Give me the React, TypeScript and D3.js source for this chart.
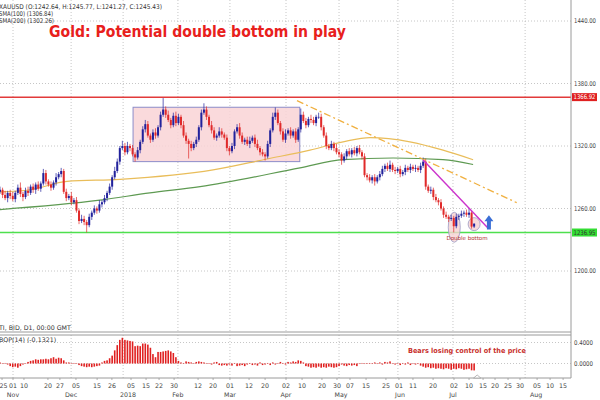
import React from "react";
import * as d3 from "d3";

const closes = [
  1278, 1273, 1270, 1275, 1272, 1269, 1275, 1280, 1274, 1271,
  1277, 1275, 1281, 1278, 1283, 1279, 1284, 1294, 1286, 1283,
  1280, 1285, 1290, 1293, 1296, 1276, 1270, 1272, 1266, 1268,
  1258, 1248, 1250, 1247, 1244, 1252, 1256, 1260, 1258, 1264,
  1266, 1270, 1275, 1281, 1290, 1296, 1305, 1318, 1320, 1314,
  1320, 1318, 1312, 1309, 1316, 1324, 1336, 1341, 1330, 1326,
  1333, 1330, 1338, 1350, 1355, 1350, 1345, 1340, 1349, 1342,
  1348, 1340, 1330, 1325, 1322, 1318, 1322, 1326, 1338, 1352,
  1355, 1348, 1340, 1335, 1328, 1330, 1334, 1331, 1328, 1318,
  1315, 1320, 1334, 1338, 1330, 1324, 1326, 1322, 1325, 1328,
  1322, 1318, 1314, 1312, 1310, 1322, 1335, 1348, 1352, 1342,
  1334, 1326, 1332, 1335, 1330, 1334, 1326, 1336, 1350, 1344,
  1340, 1346, 1345, 1342, 1348, 1348, 1338, 1330, 1320, 1318,
  1322, 1318, 1314, 1312, 1306, 1310, 1315, 1312, 1316, 1313,
  1318, 1314, 1310, 1292, 1290, 1287, 1290, 1286, 1290, 1293,
  1298, 1301, 1298, 1302, 1297, 1296, 1298, 1293, 1295, 1299,
  1297, 1300, 1298, 1299, 1297, 1301, 1305, 1281, 1277, 1278,
  1271, 1268, 1266, 1260, 1254, 1252, 1250, 1251, 1243, 1252,
  1253, 1255, 1256, 1254, 1256, 1242.64, 1245.43,
];
const firstOpen = 1276;

const wickUp = [
  3, 2, 4, 2, 3, 4, 2, 3, 5, 2,
  3, 4, 2, 3, 2, 3, 2, 4, 3, 2,
  3, 2, 4, 2, 3, 2, 3, 2, 4, 2,
  3, 2, 4, 3, 2, 3, 2, 3, 2, 4,
  2, 3, 2, 3, 2, 4, 3, 2, 5, 3,
  4, 2, 3, 2, 3, 2, 3, 4, 3, 2,
  3, 4, 2, 3, 11, 3, 4, 2, 3, 4,
  3, 2, 4, 3, 2, 3, 2, 3, 2, 3,
  6, 3, 2, 4, 3, 2, 4, 3, 2, 3,
  2, 3, 2, 3, 4, 3, 2, 3, 4, 2,
  3, 4, 2, 3, 2, 3, 2, 4, 5, 3,
  2, 3, 4, 2, 3, 2, 3, 2, 6, 3,
  3, 2, 4, 3, 2, 4, 3, 2, 3, 2,
  3, 2, 4, 3, 2, 3, 2, 3, 2, 3,
  2, 3, 2, 3, 2, 3, 2, 3, 2, 3,
  3, 2, 3, 4, 2, 3, 2, 3, 2, 3,
  2, 3, 2, 3, 2, 3, 4, 3, 2, 3,
  2, 3, 2, 3, 2, 3, 2, 3, 2, 3,
  2, 3, 2, 3, 4, 2, 0.34,
];
const wickDown = [
  2, 3, 2, 4, 3, 2, 3, 2, 3, 4,
  2, 3, 2, 3, 4, 2, 3, 2, 3, 2,
  3, 2, 3, 2, 3, 2, 3, 2, 3, 2,
  2, 3, 2, 3, 7, 2, 3, 2, 3, 2,
  3, 2, 3, 2, 3, 2, 2, 3, 2, 3,
  2, 3, 2, 4, 2, 3, 2, 3, 2, 3,
  2, 3, 2, 3, 2, 3, 2, 3, 2, 3,
  2, 3, 2, 3, 14, 3, 2, 3, 2, 3,
  2, 3, 2, 3, 2, 3, 2, 3, 2, 3,
  4, 2, 3, 2, 3, 2, 3, 2, 4, 2,
  3, 2, 3, 2, 4, 2, 3, 2, 3, 2,
  3, 2, 3, 2, 3, 2, 3, 2, 3, 2,
  3, 2, 3, 2, 3, 2, 3, 2, 3, 2,
  2, 3, 2, 3, 4, 2, 3, 2, 3, 2,
  3, 2, 3, 2, 3, 2, 3, 4, 2, 3,
  2, 3, 2, 3, 2, 3, 2, 3, 2, 3,
  2, 3, 2, 3, 2, 3, 2, 3, 2, 3,
  3, 2, 3, 2, 3, 2, 3, 2, 6, 2,
  3, 2, 3, 2, 3, 2, 1.37,
];

const bopValues = [
  0.02, -0.01, 0.01, -0.02,
  -0.05, -0.07, -0.06, -0.08, -0.05,
  -0.02, 0.0, 0.03,
  0.05, 0.06, 0.08, 0.07, 0.08, 0.08, 0.09, 0.08, 0.1, 0.12, 0.09, 0.11, 0.1, 0.06,
  0.02, 0.02, 0.01, 0.01, 0.0,
  -0.03, -0.05, -0.06, -0.07, -0.06, -0.07, -0.06, -0.05, -0.04,
  0.02, 0.05, 0.06, 0.1, 0.15,
  0.25, 0.35, 0.45, 0.49, 0.45,
  0.44, 0.43, 0.42, 0.33, 0.34, 0.33,
  0.38, 0.38, 0.36, 0.3,
  0.18, 0.12, 0.22, 0.22,
  0.23, 0.24, 0.25, 0.23, 0.2,
  0.12, 0.05, 0.02, 0.01,
  0.04, 0.03, 0.02, 0.01, 0.03, 0.04, 0.03, 0.02,
  0.01, 0.0, -0.02, 0.02, 0.03,
  -0.03, -0.04, -0.03, -0.04, -0.02,
  -0.04, 0.01, -0.05, -0.04, -0.03, -0.05, -0.02, 0.01, -0.03,
  -0.02, -0.04, 0.02, -0.03, -0.02, 0.01, -0.03, 0.02, -0.02, 0.01, 0.03,
  0.01, -0.02, 0.03, 0.02, 0.04, 0.03, 0.06,
  0.05, 0.02,
  -0.05, -0.06, -0.08, -0.07, -0.08, -0.06, -0.08, -0.07, -0.08, -0.06, -0.07, -0.08, -0.07, -0.05,
  -0.02, -0.04, -0.05, -0.03, -0.04, -0.03, -0.05,
  -0.01, 0.01, -0.01, 0.0, 0.01, -0.01,
  0.02, -0.01, 0.02, -0.02, 0.03, 0.02, 0.04, -0.01,
  -0.02, -0.01, -0.03, 0.01, -0.02, 0.02, -0.03, -0.01, -0.02, -0.01,
  -0.04, -0.06, -0.08, -0.07, -0.09, -0.08, -0.1, -0.09, -0.1, -0.11, -0.09, -0.1, -0.12, -0.1, -0.11, -0.09, -0.1, -0.12, -0.11, -0.1, -0.13, -0.1321,
];

const sma100Idx = [0, 11.8, 26.3, 47.1, 83.6, 104.7, 121.6, 134.6, 145.2, 160.8, 173.8, 185.6];
const sma100Val = [1276, 1278, 1286, 1288, 1297, 1307.5, 1316, 1324, 1328, 1324, 1316, 1306.84];
const sma200Idx = [0, 39.2, 58.8, 78.5, 117.7, 134.6, 154.2, 173.8, 185.6];
const sma200Val = [1259, 1268, 1275, 1281, 1299, 1307, 1308.5, 1307, 1302.26];

const priceTicks = [1200, 1260, 1320, 1380, 1440];
const resistance = 1366.92;
const support = 1236.95;
const rangeBox = { i0: 52.2, i1: 117.6, top: 1357.2, bottom: 1305 };
const trendOrange = [[116.5, 1363.5], [202.7, 1265.6]];
const trendMagenta = [[166, 1306.6], [191.5, 1241]];

const dayTickIdx = [0.8, 5.1, 9.4, 18.8, 23.5, 29.8, 38.1, 43.9, 51.4, 57.3, 62.4, 68.3, 77.7, 83.6, 90.2, 97.7, 104, 112.2, 118.5, 126.3, 132.2, 137.3, 143.6, 151.4, 156.5, 162, 169.9, 178.1, 184, 189.5, 194.2, 199.3, 204, 210.7, 215.8, 220.9];
const dayTickLabels = ["25", "01", "10", "20", "27", "05", "15", "26", "05", "15", "22", "30", "12", "20", "01", "12", "20", "02", "10", "20", "30", "07", "15", "25", "01", "11", "20", "02", "10", "15", "20", "25", "30", "05", "10", "15"];
const monthGridIdx = [5.1, 27.9, 48.3, 69.8, 90.2, 112.2, 133, 156.1, 177.7, 206];
const monthLabelIdx = [5.1, 27.9, 50.2, 69.8, 90.2, 112.2, 133.8, 156.9, 177.7, 210.3];
const monthLabels = ["Nov", "Dec", "2018", "Feb", "Mar", "Apr", "May", "Jun", "Jul", "Aug"];
const bopTicks = [0, 0.4];

const FONT = "Verdana, 'DejaVu Sans', sans-serif";

export default function App() {
  const W = 600, H = 400;
  const plotR = 571;
  const x = d3.scaleLinear().domain([0, 224]).range([0, plotR]);
  const y = d3.scaleLinear().domain([1200, 1440]).range([271, 21]);
  const yb = d3.scaleLinear().domain([0, 0.4]).range([363.5, 342.5]);

  const mainTop = 0, mainBot = 332, indTop = 335, indBot = 378;

  const candles = closes.map((c, i) => {
    const o = i === 0 ? firstOpen : closes[i - 1];
    const hi = Math.max(o, c) + wickUp[i];
    const lo = Math.min(o, c) - wickDown[i];
    return { i, o, c, hi, lo };
  });

  const sma100Path = d3.line<number>().curve(d3.curveMonotoneX).x((_, k) => x(sma100Idx[k])).y((v) => y(v))(sma100Val) || "";
  const sma200Path = d3.line<number>().curve(d3.curveMonotoneX).x((_, k) => x(sma200Idx[k])).y((v) => y(v))(sma200Val) || "";

  const grid = "#b8b8b8";
  const axisCol = "#9a9a9a";
  const txt = "#444";

  const arrowX = x(191.8);
  const arrowTop = y(1253.5);
  const arrowBot = y(1239.8);

  return (
    <svg width={W} height={H} style={{ position: "absolute", left: 0, top: 0, background: "#fff" }} fontFamily={FONT}>
      <rect x={0} y={0} width={W} height={H} fill="#fff" />
      {priceTicks.map((p) => (
        <line key={"hg" + p} x1={0} x2={plotR} y1={y(p)} y2={y(p)} stroke={grid} strokeWidth={0.8} strokeDasharray="1,2" />
      ))}
      {monthGridIdx.map((m, k) => (
        <g key={"vg" + k}>
          <line x1={x(m)} x2={x(m)} y1={mainTop} y2={mainBot} stroke={grid} strokeWidth={0.8} strokeDasharray="1,2" />
          <line x1={x(m)} x2={x(m)} y1={indTop} y2={indBot} stroke={grid} strokeWidth={0.8} strokeDasharray="1,2" />
        </g>
      ))}
      {bopTicks.map((t) => (
        <line key={"bg" + t} x1={0} x2={plotR} y1={yb(t)} y2={yb(t)} stroke={grid} strokeWidth={0.8} strokeDasharray="1,2" />
      ))}

      <rect x={x(rangeBox.i0)} y={y(rangeBox.top)} width={x(rangeBox.i1) - x(rangeBox.i0)} height={y(rangeBox.bottom) - y(rangeBox.top)} fill="#f9d4d6" fillOpacity={0.85} stroke="#8c8cc8" strokeWidth={1} />

      <line x1={0} x2={plotR} y1={y(resistance)} y2={y(resistance)} stroke="#e23a3a" strokeWidth={1.5} />
      <line x1={0} x2={plotR} y1={y(support)} y2={y(support)} stroke="#4ee04e" strokeWidth={1.5} />

      <path d={sma100Path} fill="none" stroke="#e9bd5a" strokeWidth={1.2} />
      <path d={sma200Path} fill="none" stroke="#5e9a52" strokeWidth={1.2} />

      <ellipse cx={x(178.2)} cy={y(1242)} rx={6} ry={15} fill="#f6d2d2" fillOpacity={0.8} stroke="#9a9ac4" strokeWidth={0.8} />
      <ellipse cx={x(186)} cy={y(1245)} rx={6} ry={6.5} fill="#f6d2d2" fillOpacity={0.8} stroke="#9a9ac4" strokeWidth={0.8} />

      {candles.map((d) => {
        const col = d.c >= d.o ? "#22229c" : "#e02a2a";
        const cx = x(d.i);
        const top = y(Math.max(d.o, d.c));
        const bh = Math.max(0.7, y(Math.min(d.o, d.c)) - top);
        return (
          <g key={"c" + d.i}>
            <line x1={cx} x2={cx} y1={y(d.hi)} y2={y(d.lo)} stroke={col} strokeWidth={0.7} />
            <rect x={cx - 1} y={top} width={2} height={bh} fill={col} />
          </g>
        );
      })}

      <line x1={x(trendOrange[0][0])} y1={y(trendOrange[0][1])} x2={x(trendOrange[1][0])} y2={y(trendOrange[1][1])} stroke="#f0b040" strokeWidth={1.3} strokeDasharray="7,3,2,3" />
      <line x1={x(trendMagenta[0][0])} y1={y(trendMagenta[0][1])} x2={x(trendMagenta[1][0])} y2={y(trendMagenta[1][1])} stroke="#cc33cc" strokeWidth={1.4} />

      <path d={`M${arrowX},${arrowTop} L${arrowX + 4.5},${arrowTop + 6} L${arrowX + 2},${arrowTop + 6} L${arrowX + 2},${arrowBot} L${arrowX - 2},${arrowBot} L${arrowX - 2},${arrowTop + 6} L${arrowX - 4.5},${arrowTop + 6} Z`} fill="#3b6fd6" />

      <text x={x(183.2)} y={y(1230)} fontSize={5.5} fill="#b03030" textAnchor="middle">Double bottom</text>

      <text x={49} y={37} fontSize={15} fontWeight="bold" fill="#e8201c" fontFamily="'DejaVu Sans', Verdana, sans-serif" textLength={297} lengthAdjust="spacingAndGlyphs">Gold: Potential double bottom in play</text>

      <text x={-1} y={8.5} fontSize={6.5} fill="#333" textLength={163} lengthAdjust="spacingAndGlyphs">XAUUSD (O:1242.64, H:1245.77, L:1241.27, C:1245.43)</text>
      <text x={-1} y={15.5} fontSize={6.5} fill="#333" textLength={54} lengthAdjust="spacingAndGlyphs">SMA(100) (1306.84)</text>
      <text x={-1} y={22.5} fontSize={6.5} fill="#333" textLength={55} lengthAdjust="spacingAndGlyphs">SMA(200) (1302.26)</text>

      <line x1={0} x2={plotR} y1={mainBot} y2={mainBot} stroke={axisCol} strokeWidth={1} />
      <line x1={0} x2={plotR} y1={indTop} y2={indTop} stroke={axisCol} strokeWidth={1} />
      <line x1={0} x2={plotR} y1={indBot} y2={indBot} stroke={axisCol} strokeWidth={1} />
      <line x1={plotR} x2={plotR} y1={0} y2={indBot} stroke={axisCol} strokeWidth={1} />

      <text x={-1} y={329.5} fontSize={6.3} fill="#333">TI, BID, D1, 00:00 GMT</text>
      <text x={-1} y={341.5} fontSize={6.3} fill="#333">BOP(14) (-0.1321)</text>

      {bopValues.map((v, i) => {
        const y0 = yb(0), y1 = yb(v);
        return <rect key={"b" + i} x={x(i) - 0.8} y={Math.min(y0, y1)} width={1.6} height={Math.max(0.5, Math.abs(y1 - y0))} fill="#e02020" />;
      })}
      <text x={408} y={353} fontSize={7} fontWeight="bold" fill="#c8302c" textLength={118} lengthAdjust="spacingAndGlyphs">Bears losing control of the price</text>

      {priceTicks.map((p) => (
        <text key={"pt" + p} x={574} y={y(p) + 2.3} fontSize={6.5} fill={txt} textLength={22} lengthAdjust="spacingAndGlyphs">{p.toFixed(2)}</text>
      ))}
      <rect x={572} y={y(resistance) - 4} width={25} height={8} fill="#e02020" />
      <text x={573.5} y={y(resistance) + 2.3} fontSize={6.5} fill="#fff" textLength={22} lengthAdjust="spacingAndGlyphs">{resistance.toFixed(2)}</text>
      <rect x={572} y={y(support) - 4} width={25} height={8} fill="#33dd33" />
      <text x={573.5} y={y(support) + 2.3} fontSize={6.5} fill="#333" textLength={22} lengthAdjust="spacingAndGlyphs">{support.toFixed(2)}</text>
      {bopTicks.map((t) => (
        <text key={"bt" + t} x={574} y={yb(t) + 2.3} fontSize={6.5} fill={txt} textLength={19} lengthAdjust="spacingAndGlyphs">{t.toFixed(4)}</text>
      ))}

      {dayTickIdx.map((d, k) => (
        <g key={"dt" + k}>
          <line x1={x(d)} x2={x(d)} y1={indBot} y2={indBot + 2} stroke={axisCol} strokeWidth={0.8} />
          <text x={Math.max(x(d), 3.5)} y={388} fontSize={6.3} fill={txt} textAnchor="middle">{dayTickLabels[k]}</text>
        </g>
      ))}
      {monthLabelIdx.map((m, k) => (
        <text key={"ml" + k} x={x(m)} y={396.5} fontSize={6.3} fill={txt} textAnchor="middle">{monthLabels[k]}</text>
      ))}
      <path d={`M${x(187.2)},${indBot - 3} L${x(188.6)},${indBot} L${x(185.8)},${indBot} Z`} fill="#fff" stroke="#999" strokeWidth={0.7} />
    </svg>
  );
}
